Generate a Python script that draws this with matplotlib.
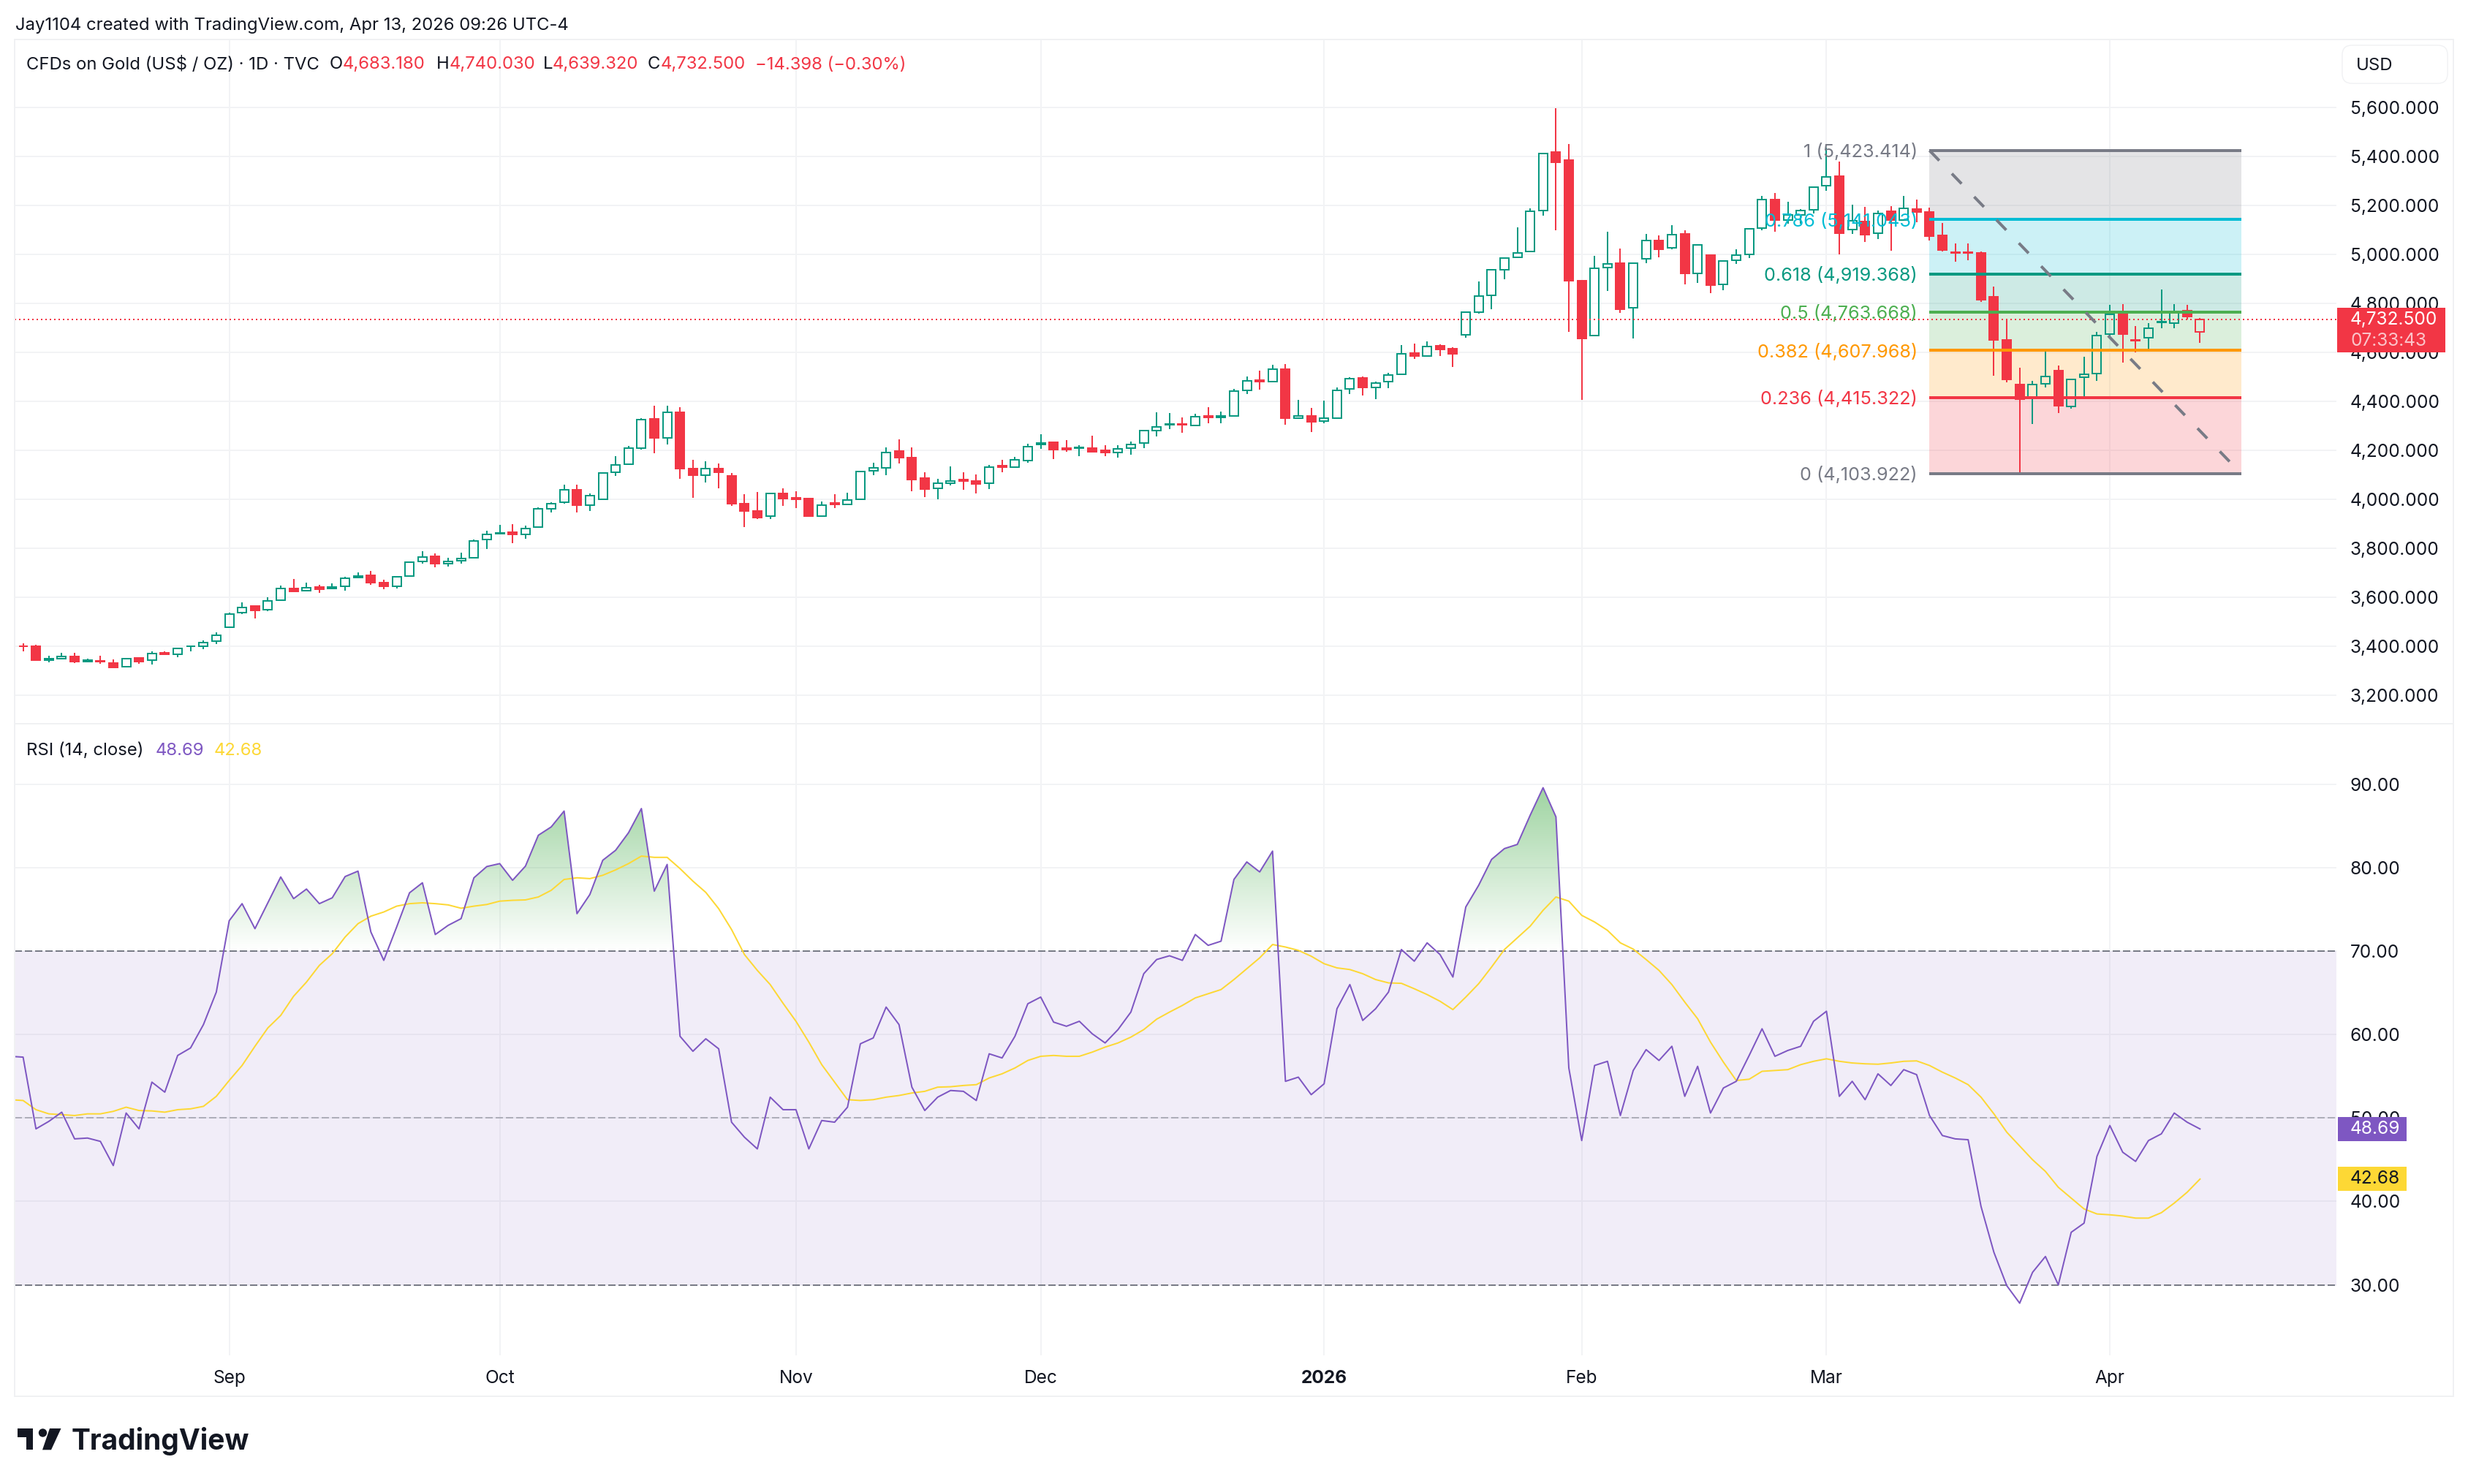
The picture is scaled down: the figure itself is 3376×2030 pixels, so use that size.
#import lib
import numpy as np
import matplotlib
matplotlib.use('Agg')
import matplotlib.pyplot as plt
from matplotlib.patches import Rectangle, Ellipse, Polygon, FancyBboxPatch
from matplotlib.path import Path
from matplotlib.transforms import blended_transform_factory, offset_copy

plt.rcParams['font.family'] = ['Inter', 'DejaVu Sans']

####**********************************data**********************************####
open_p = [3400,3400,3343,3349,3356,3337,3339,3331,3316,3350,
          3341,3371,3366,3398,3398,3419,3478,3535,3562,3547,
          3587,3635,3625,3640,3634,3645,3680,3689,3659,3645,
          3687,3744,3765,3736,3748,3760,3834,3859,3864,3857,
          3887,3961,3986,4039,3975,3999,4110,4142,4207,4327,
          4249,4355,4123,4097,4125,4095,3982,3950,3931,4022,
          4004,4002,3930,3983,3977,3998,4115,4127,4195,4169,
          4085,4043,4066,4079,4075,4064,4136,4130,4157,4222,
          4232,4207,4207,4207,4199,4190,4208,4229,4279,4303,
          4307,4300,4338,4332,4339,4443,4485,4480,4531,4329,
          4339,4319,4330,4450,4495,4456,4481,4510,4596,4584,
          4625,4615,4671,4762,4832,4937,4987,5011,5177,5418,
          5383,4893,4668,4945,4964,4782,4981,5056,5025,5084,
          4922,4995,4876,4975,4998,5106,5224,5139,5159,5180,
          5279,5319,5100,5132,5086,5176,5138,5185,5173,5078,
          5007,5007,5004,4827,4651,4467,4417,4470,4523,4377,
          4497,4513,4674,4756,4651,4659,4721,4719,4770,4683.18]
high_p = [3410,3404,3360,3371,3373,3347,3360,3345,3350,3352,
          3377,3377,3392,3402,3423,3455,3537,3577,3564,3598,
          3646,3675,3659,3651,3657,3683,3702,3706,3672,3684,
          3745,3788,3777,3760,3782,3834,3870,3895,3899,3891,
          3967,3988,4058,4058,4024,4110,4176,4216,4329,4382,
          4382,4374,4159,4154,4146,4108,4020,4030,4026,4045,
          4032,4005,3990,4020,4026,4116,4147,4211,4243,4211,
          4110,4083,4134,4110,4100,4139,4161,4171,4225,4265,
          4234,4241,4219,4258,4220,4219,4236,4284,4354,4352,
          4334,4348,4376,4358,4449,4500,4524,4547,4552,4406,
          4372,4402,4456,4498,4500,4480,4516,4630,4635,4643,
          4632,4620,4765,4888,4939,4987,5109,5188,5412,5596,
          5449,4895,4992,5091,5022,4966,5084,5077,5118,5098,
          5042,4998,4975,5019,5106,5238,5249,5215,5185,5276,
          5436,5378,5203,5192,5177,5195,5238,5223,5189,5126,
          5043,5043,5011,4867,4736,4537,4482,4602,4545,4493,
          4580,4684,4792,4797,4706,4718,4856,4797,4792,4740.03]
low_p = [3377,3341,3333,3345,3331,3333,3328,3312,3312,3328,
         3324,3364,3354,3379,3387,3408,3474,3529,3514,3543,
         3583,3623,3623,3617,3634,3627,3676,3649,3632,3634,
         3685,3736,3721,3725,3737,3756,3796,3855,3821,3838,
         3883,3944,3982,3946,3950,3996,4095,4140,4201,4188,
         4222,4083,4005,4068,4045,3973,3887,3918,3918,3973,
         3964,3927,3930,3964,3977,3996,4098,4098,4145,4032,
         4008,4000,4056,4038,4023,4042,4111,4129,4149,4206,
         4163,4194,4176,4194,4176,4169,4182,4207,4256,4287,
         4271,4299,4310,4310,4338,4430,4446,4479,4304,4326,
         4274,4311,4329,4430,4424,4408,4454,4508,4571,4583,
         4583,4538,4660,4756,4774,4897,4984,5008,5157,5098,
         4683,4405,4666,4850,4759,4657,4964,4987,5019,4876,
         4884,4841,4853,4960,4983,5098,5091,5124,5124,5165,
         5258,4998,5083,5049,5062,5014,5135,5130,5056,5010,
         4969,4975,4805,4505,4478,4100,4307,4456,4351,4370,
         4420,4484,4660,4557,4599,4608,4698,4698,4732,4639.32]
close_p = [3398,3343,3349,3358,3335,3341,3335,3314,3347,3337,
           3370,3366,3390,3400,3415,3444,3531,3558,3545,3585,
           3635,3623,3638,3632,3642,3676,3687,3659,3644,3682,
           3743,3763,3735,3744,3758,3828,3855,3862,3855,3881,
           3959,3980,4039,3975,4013,4106,4138,4207,4325,4249,
           4353,4123,4097,4123,4110,3980,3950,3925,4022,4001,
           4000,3931,3976,3979,3997,4114,4127,4191,4170,4081,
           4042,4066,4075,4074,4063,4131,4131,4161,4215,4229,
           4203,4202,4210,4194,4189,4206,4224,4279,4296,4307,
           4303,4337,4332,4338,4442,4483,4481,4529,4329,4338,
           4315,4329,4444,4492,4455,4475,4507,4594,4583,4624,
           4612,4594,4762,4829,4935,4984,5005,5176,5410,5375,
           4893,4657,4941,4960,4774,4963,5056,5021,5080,4920,
           5039,4873,4972,4995,5103,5224,5139,5159,5177,5273,
           5317,5086,5136,5081,5167,5138,5186,5173,5075,5016,
           5004,5004,4814,4651,4490,4408,4468,4500,4380,4490,
           4510,4668,4754,4675,4648,4698,4724,4767,4744,4732.5]

# first value belongs to the bar just off the left edge
rsi_values = [57.4,
    57.3,48.7,49.6,50.7,47.5,47.6,47.2,44.3,50.6,48.7,
    54.3,53.1,57.5,58.4,61.2,65.1,73.65,75.7,72.7,75.8,
    78.9,76.3,77.45,75.7,76.4,78.95,79.6,72.3,68.9,72.9,
    77,78.2,72,73.1,73.9,78.8,80.15,80.5,78.5,80.2,
    83.9,84.9,86.8,74.5,76.8,80.9,82.1,84.2,87.1,77.2,
    80.4,59.8,58,59.5,58.3,49.5,47.7,46.3,52.5,51,
    51,46.3,49.7,49.5,51.3,58.9,59.6,63.3,61.2,53.7,
    50.9,52.5,53.3,53.2,52.1,57.7,57.2,59.8,63.7,64.5,
    61.5,61,61.6,60.1,59,60.6,62.7,67.3,69,69.45,
    68.9,72,70.7,71.2,78.6,80.7,79.5,82,54.4,54.9,
    52.8,54.1,63.1,66,61.7,63.1,65.1,70.2,68.8,71,
    69.6,66.9,75.3,77.9,81,82.3,82.8,86.3,89.6,86.1,
    56,47.3,56.3,56.8,50.3,55.7,58.2,56.9,58.6,52.6,
    56.2,50.6,53.6,54.4,57.5,60.7,57.4,58.1,58.6,61.6,
    62.8,52.6,54.4,52.2,55.3,53.9,55.8,55.2,50.3,47.9,
    47.5,47.4,39.4,33.9,29.9,27.8,31.5,33.4,30,36.3,
    37.4,45.4,49.1,45.9,44.8,47.3,48.1,50.6,49.5,48.69]
rsi_ma_values = [52.2,
    52.1,51,50.5,50.4,50.3,50.5,50.5,50.8,51.3,50.9,
    50.85,50.7,51,51.1,51.4,52.6,54.5,56.3,58.6,60.8,
    62.3,64.6,66.3,68.3,69.7,71.7,73.3,74.2,74.7,75.4,
    75.7,75.8,75.7,75.55,75.15,75.4,75.6,76,76.1,76.15,
    76.5,77.3,78.6,78.8,78.7,79.1,79.75,80.5,81.4,81.25,
    81.25,79.9,78.4,77.05,75.1,72.6,69.6,67.7,66,63.75,
    61.6,59.1,56.4,54.3,52.2,52.1,52.2,52.5,52.7,53,
    53.2,53.7,53.75,53.9,54,54.8,55.3,56,56.9,57.4,
    57.5,57.4,57.4,57.9,58.5,59,59.7,60.6,61.85,62.7,
    63.5,64.4,64.9,65.4,66.6,67.9,69.2,70.8,70.5,70.1,
    69.4,68.5,68,67.8,67.3,66.6,66.2,66.15,65.5,64.8,
    64,63,64.5,66.1,68.1,70.2,71.6,73,74.9,76.5,
    76,74.3,73.5,72.5,71,70.25,69,67.7,66,63.9,
    61.9,59.1,56.7,54.5,54.65,55.6,55.7,55.8,56.4,56.8,
    57.1,56.8,56.6,56.5,56.45,56.6,56.8,56.85,56.3,55.5,
    54.8,54,52.5,50.5,48.3,46.65,45,43.6,41.7,40.4,
    39.1,38.5,38.4,38.25,38,38,38.65,39.8,41.1,42.68]

month_ticks = [16,37,60,79,101,121,140,162]
month_labels = ['Sep','Oct','Nov','Dec','2026','Feb','Mar','Apr']
price_ticks = [3200,3400,3600,3800,4000,4200,4400,4600,4800,5000,5200,5400,5600]
rsi_ticks = [30,40,50,60,70,80,90]

fib_ratio = [1,0.786,0.618,0.5,0.382,0.236,0]
fib_price = [5423.414,5141.043,4919.368,4763.668,4607.968,4415.322,4103.922]
fib_color = ['#787b86','#00bcd4','#089981','#4caf50','#ff9800','#f23645','#787b86']
fib_start = 148
fib_end = 172.2
####************************************************************************####

W, H = 3376, 2030
GREEN = '#089981'
RED = '#f23645'
PURPLE = '#7e57c2'
YELLOW = '#fdd835'
GRID = '#f2f3f5'
TEXT = '#131722'
FS = 17.2       # header and legends
FS_AXIS = 17.6  # scales and tags
FS_FIB = 18.2
PX = 0.72  # points per image pixel at dpi 100


def px(x, y):
    return x / W, 1 - y / H


def top_text(x, y, s, color=TEXT, **kw):
    fx, fy = px(x, y + 3)
    fig.text(fx, fy, s, color=color, fontsize=kw.pop('fontsize', FS), va='center', ha='left', **kw)


fig = plt.figure(figsize=(W / 100, H / 100), dpi=100, facecolor='white')

ax_price = fig.add_axes([20 / W, 1 - 990 / H, 3176 / W, 936 / H])
ax_rsi = fig.add_axes([20 / W, 1 - 1854 / H, 3176 / W, 864 / H])

bar_x = np.arange(len(close_p))
xlim = (-0.658, 179.59)

for ax in (ax_price, ax_rsi):
    for s in ax.spines.values():
        s.set_visible(False)
    ax.set_xlim(xlim)
    ax.set_xticks(month_ticks)
    ax.yaxis.tick_right()
    ax.grid(True, color=GRID, lw=2 * PX)
    ax.set_axisbelow(True)
    ax.tick_params(length=0, labelsize=FS_AXIS, labelcolor=TEXT)
    ax.tick_params(axis='y', pad=19 * PX)

#price pane
ax_price.set_ylim(3082.7, 5876.7)
ax_price.set_yticks(price_ticks)
ax_price.set_yticklabels([f'{p:,.3f}' for p in price_ticks])
ax_price.tick_params(axis='x', labelbottom=False)

#fib zones under the candles
for k in range(len(fib_price) - 1):
    ax_price.fill_between([fib_start, fib_end], fib_price[k], fib_price[k + 1],
                          color=fib_color[k], alpha=0.2, lw=0, zorder=1.5)

o = np.array(open_p)
h = np.array(high_p)
l = np.array(low_p)
c = np.array(close_p)
up = c >= o
down = ~up
body_w = 12 / 17.62
last = len(c) - 1

up_green = up.copy()
up_green[last] = False
top = np.maximum(o, c)
bottom = np.minimum(o, c)

edge = [GREEN if u else RED for u in up_green]
ax_price.vlines(bar_x, top, h, color=edge, lw=2 * PX, zorder=2)
ax_price.vlines(bar_x, l, bottom, color=edge, lw=2 * PX, zorder=2)
ax_price.bar(bar_x[up], (c - o)[up], body_w, bottom=o[up], facecolor='none',
             edgecolor=[e for e, u in zip(edge, up) if u], lw=2 * PX, zorder=2.1)
ax_price.bar(bar_x[down], (o - c)[down], body_w, bottom=c[down], facecolor=RED,
             edgecolor=RED, lw=2 * PX, zorder=2.1)

ax_price.axhline(close_p[-1], color=RED, lw=2 * PX, ls=(0, (1, 2)), zorder=2.2)

#fib lines and labels
fib_text_tr = offset_copy(ax_price.transData, fig=fig, y=-2.5 * PX, units='points')
for r, p, col in zip(fib_ratio, fib_price, fib_color):
    ax_price.plot([fib_start, fib_end], [p, p], color=col, lw=4 * PX, zorder=3, solid_capstyle='butt')
    ax_price.text(fib_start - 0.95, p, f'{r} ({p:,.3f})', color=col, fontsize=FS_FIB, ha='right', va='center',
                  zorder=4, transform=fib_text_tr)
ax_price.plot([fib_start, fib_end], [fib_price[0], fib_price[-1]], color='#787b86', lw=4 * PX,
              ls=(0, (4.8, 6.2)), zorder=3, dash_capstyle='butt')

#last price tag
tr_price = blended_transform_factory(ax_price.transAxes, ax_price.transData)
ax_price.add_patch(Rectangle((1.0003, close_p[-1] - 134), 148 / 3176, 184, transform=tr_price,
                             facecolor=RED, edgecolor='none', clip_on=False, zorder=10))
ax_price.text(1 + 19 / 3176, close_p[-1], '4,732.500', transform=tr_price, color='white', fontsize=FS_AXIS,
              ha='left', va='center', zorder=11, clip_on=False)
ax_price.text(1 + 19 / 3176, close_p[-1] - 86, '07:33:43', transform=tr_price, color='#fbc4c9', fontsize=FS_AXIS,
              ha='left', va='center', zorder=11, clip_on=False)

#rsi pane
rsi_x = np.arange(-1, len(close_p))
rsi = np.array(rsi_values)
rsi_ma = np.array(rsi_ma_values)

ax_rsi.set_ylim(21.55, 97.27)
ax_rsi.set_yticks(rsi_ticks)
ax_rsi.set_yticklabels([f'{t:.2f}' for t in rsi_ticks])
ax_rsi.set_xticklabels(month_labels)
ax_rsi.tick_params(axis='x', pad=20 * PX)
for lab in ax_rsi.get_xticklabels():
    if lab.get_text() == '2026':
        lab.set_fontweight('bold')

ax_rsi.axhspan(30, 70, color=PURPLE, alpha=0.1, lw=0, zorder=1.2)
ax_rsi.axhline(70, color='#787b86', lw=2 * PX, ls=(0, (5, 2)), zorder=1.6)
ax_rsi.axhline(30, color='#787b86', lw=2 * PX, ls=(0, (5, 2)), zorder=1.6)
ax_rsi.axhline(50, color='#787b86', alpha=0.5, lw=2 * PX, ls=(0, (5, 2)), zorder=1.6)


def gradient_fill(where, level, far, rgb, max_alpha):
    # gradient image clipped to the area between the rsi line and the level
    coll = ax_rsi.fill_between(rsi_x, rsi, level, where=where, interpolate=True, color='none', lw=0)
    clip = Path.make_compound_path(*coll.get_paths())
    alpha = np.linspace(0, max_alpha, 256)[::-1 if far > level else 1].reshape(-1, 1)
    img = np.ones((256, 1, 4))
    img[:, :, :3] = rgb
    img[:, :, 3] = alpha
    im = ax_rsi.imshow(img, extent=[xlim[0], xlim[1], min(level, far), max(level, far)],
                       aspect='auto', zorder=1.4, interpolation='bilinear')
    im.set_clip_path(clip, ax_rsi.transData)


gradient_fill(rsi > 70, 70, 90, (0.298, 0.686, 0.314), 0.55)
gradient_fill(rsi < 30, 30, 10, (0.949, 0.212, 0.271), 0.5)
ax_rsi.set_xlim(xlim)
ax_rsi.set_ylim(21.55, 97.27)

ax_rsi.plot(rsi_x, rsi_ma, color=YELLOW, lw=2 * PX, zorder=3)
ax_rsi.plot(rsi_x, rsi, color=PURPLE, lw=2 * PX, zorder=3.1)

#rsi value tags
tr_rsi = blended_transform_factory(ax_rsi.transAxes, ax_rsi.transData)
for val, col, tcol in ((rsi_values[-1], PURPLE, 'white'), (rsi_ma_values[-1], YELLOW, TEXT)):
    ax_rsi.add_patch(Rectangle((1.0006, val - 1.45), 94 / 3176, 2.9, transform=tr_rsi, facecolor=col,
                               edgecolor='none', clip_on=False, zorder=10))
    ax_rsi.text(1 + 19 / 3176, val, f'{val:.2f}', transform=tr_rsi, color=tcol, fontsize=FS_AXIS,
                ha='left', va='center', zorder=11, clip_on=False)

#frame
fig.add_artist(Rectangle(px(20, 1910), 3336 / W, 1856 / H, transform=fig.transFigure,
                         facecolor='none', edgecolor='#f0f1f3', lw=2 * PX))
fig.add_artist(plt.Line2D([20 / W, 3356 / W], [1 - 990 / H] * 2, color='#f0f1f3', lw=2 * PX))

# USD box
fig.add_artist(FancyBboxPatch(px(3212, 106), 128 / W, 36 / H, boxstyle='round,pad=0.0024,rounding_size=0.004',
                              transform=fig.transFigure, facecolor='white', edgecolor='#f0f1f3', lw=1.4 * PX,
                              mutation_aspect=W / H))
top_text(3223, 87, 'USD')

#header texts
top_text(21, 32, 'Jay1104 created with TradingView.com, Apr 13, 2026 09:26 UTC-4')
top_text(36.5, 85.5, 'CFDs on Gold (US$ / OZ) · 1D · TVC')
for x_lab, lab, x_val, val in ((451, 'O', 469, '4,683.180'), (597, 'H', 615, '4,740.030'),
                               (743, 'L', 756, '4,639.320'), (886, 'C', 903.5, '4,732.500')):
    top_text(x_lab, 85.5, lab)
    top_text(x_val, 85.5, val, color=RED)
top_text(1032.6, 85.5, '\u221214.398 (\u22120.30%)', color=RED)

top_text(36.5, 1023.7, 'RSI (14, close)')
top_text(212.6, 1023.7, '48.69', color=PURPLE)
top_text(292.5, 1023.7, '42.68', color=YELLOW)

#logo
LOGO = '#131722'
fig.add_artist(Polygon([px(24, 1954), px(45, 1954), px(45, 1983.3), px(35.7, 1983.3), px(35.7, 1965.7), px(24, 1965.7)],
                       closed=True, transform=fig.transFigure, facecolor=LOGO, edgecolor='none'))
fig.add_artist(Polygon([px(68, 1954), px(83.5, 1954), px(70, 1983.3), px(58, 1983.3)],
                       closed=True, transform=fig.transFigure, facecolor=LOGO, edgecolor='none'))
cx, cy = px(58.5, 1960)
fig.add_artist(Ellipse((cx, cy), 11.4 / W, 11.4 / H, transform=fig.transFigure,
                       facecolor=LOGO, edgecolor='none'))
fx, fy = px(98, 1983.3)
fig.text(fx, fy, 'TradingView', color=LOGO, fontsize=28, fontweight='bold', ha='left', va='baseline')

fig.savefig('out.png', dpi=100)
